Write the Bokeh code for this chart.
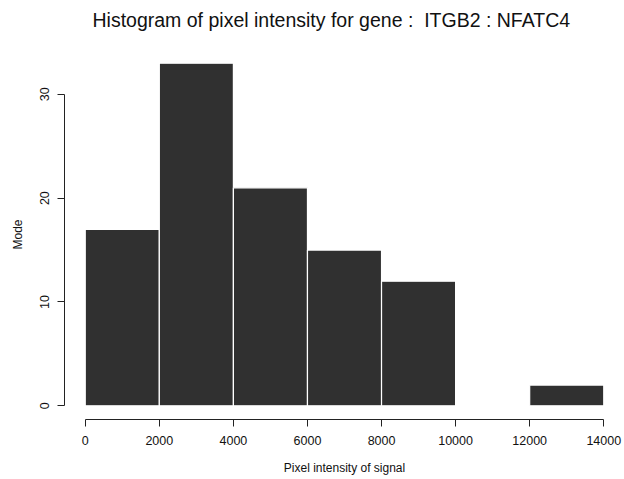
from bokeh.plotting import figure
from bokeh.models import Range1d, FixedTicker, ColumnDataSource, Title
from bokeh.embed import file_html
from bokeh.resources import INLINE

bin_edges = [0, 2000, 4000, 6000, 8000, 10000, 12000, 14000]
counts = [17, 33, 21, 15, 12, 0, 2]
x_ticks = [0, 2000, 4000, 6000, 8000, 10000, 12000, 14000]
y_ticks = [0, 10, 20, 30]

title_text = "Histogram of pixel intensity for gene :\u00a0 ITGB2 : NFATC4"
x_label = "Pixel intensity of signal"
y_label = "Mode"

src = ColumnDataSource(dict(left=bin_edges[:-1], right=bin_edges[1:],
                            top=counts, bottom=[0] * len(counts)))

FONT = "Liberation Sans"

p = figure(width=624, height=479, output_backend="svg", toolbar_location=None,
           x_range=Range1d(-560, 14560), y_range=Range1d(-1.32, 34.32),
           min_border_left=64, min_border_right=0, min_border_top=48, min_border_bottom=60)

p.quad(left="left", right="right", top="top", bottom="bottom", source=src,
       fill_color="#303030", line_color="white", line_width=1.2)

# invisible spacer between title and plot frame
p.add_layout(Title(text=" ", text_font_size="1px", standoff=10), "above")

p.title.text = title_text
p.title.align = "left"
p.title.text_font = FONT
p.title.text_font_size = "19.5px"
p.title.text_font_style = "normal"
p.title.text_color = "#111111"
p.title.offset = 28
p.title.standoff = 12

p.outline_line_color = None
p.grid.visible = False
p.background_fill_color = "white"
p.border_fill_color = "white"

for ax in (p.xaxis, p.yaxis):
    ax.minor_tick_line_color = None
    ax.major_tick_in = 0
    ax.major_tick_out = 7
    ax.axis_line_color = "#222222"
    ax.major_tick_line_color = "#222222"
    ax.major_label_text_font = FONT
    ax.major_label_text_font_size = "12.5px"
    ax.major_label_text_color = "#111111"
    ax.axis_label_text_font = FONT
    ax.axis_label_text_font_size = "12px"
    ax.axis_label_text_font_style = "normal"
    ax.axis_label_text_color = "#111111"

p.xaxis.ticker = FixedTicker(ticks=x_ticks)
p.yaxis.ticker = FixedTicker(ticks=y_ticks)
p.xaxis.bounds = (0, 14000)
p.yaxis.bounds = (0, 30)
p.xaxis.axis_label = x_label
p.yaxis.axis_label = y_label
p.yaxis.major_label_orientation = "vertical"
p.xaxis.major_label_standoff = 9
p.xaxis.axis_label_standoff = 13
p.yaxis.major_label_standoff = 8
p.yaxis.axis_label_standoff = 13

open("out.html", "w").write(file_html(p, INLINE))
